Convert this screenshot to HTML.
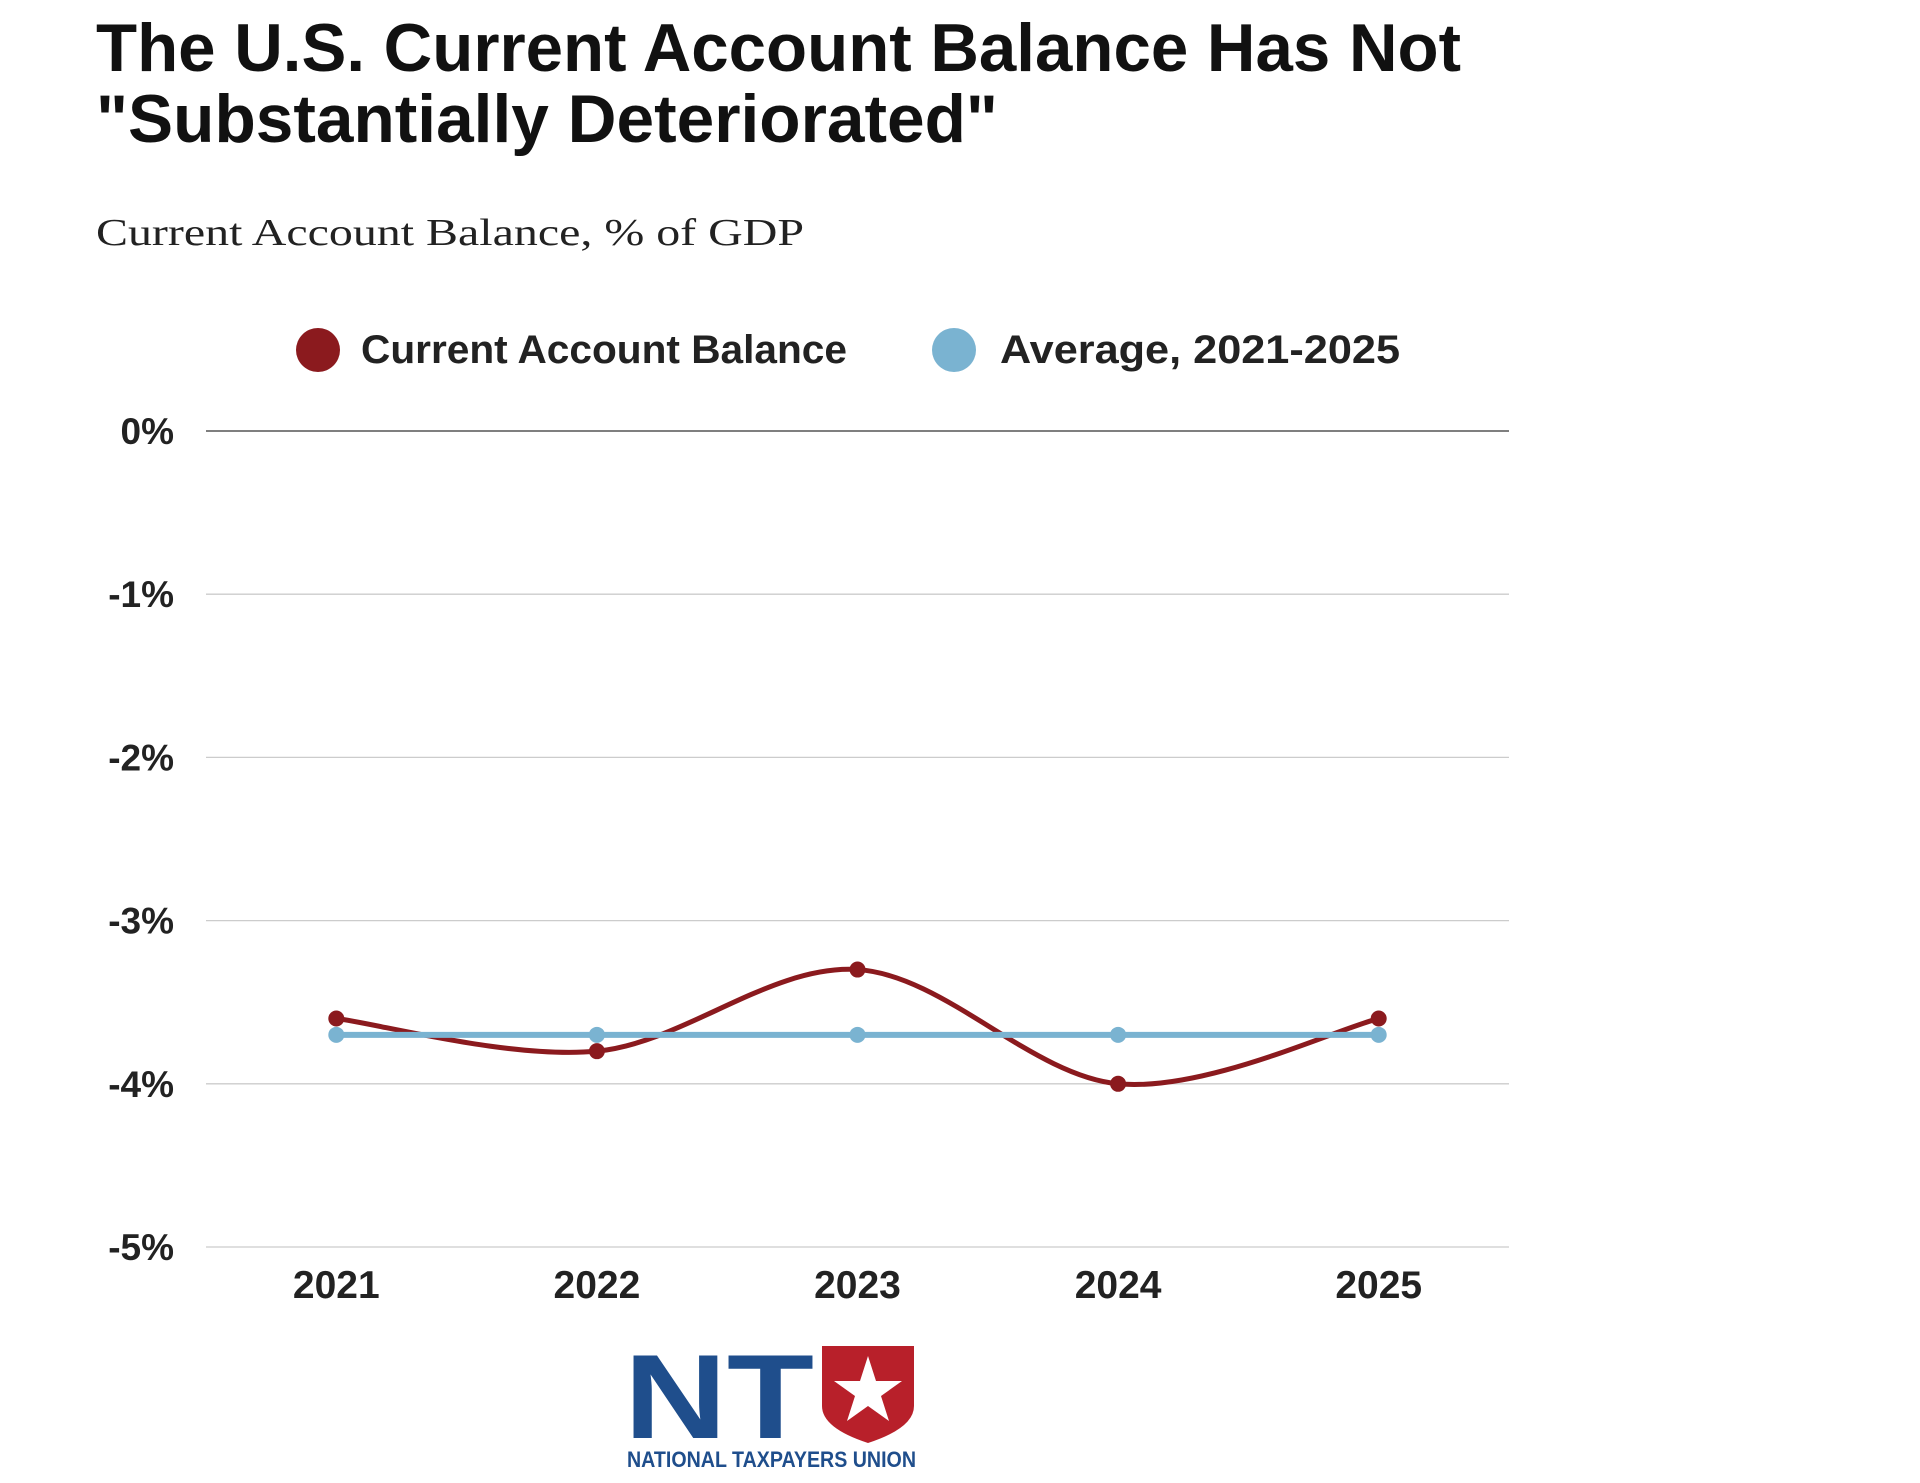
<!DOCTYPE html>
<html><head><meta charset="utf-8"><style>
html,body{margin:0;padding:0;background:#fff;}
svg{display:block;font-family:"Liberation Sans",sans-serif;}
</style></head><body>
<svg id="chart" width="1920" height="1483" viewBox="0 0 1920 1483">
<text x="96" y="71" font-size="68" font-weight="bold" fill="#111" textLength="1365" lengthAdjust="spacingAndGlyphs">The U.S. Current Account Balance Has Not</text>
<text x="96" y="142" font-size="68" font-weight="bold" fill="#111" textLength="902" lengthAdjust="spacingAndGlyphs">"Substantially Deteriorated"</text>
<text x="96" y="245" font-size="38" font-family="Liberation Serif, serif" fill="#222" textLength="708" lengthAdjust="spacingAndGlyphs">Current Account Balance, % of GDP</text>
<g>
<circle cx="318" cy="350" r="22" fill="#8b1a1e"/>
<text x="361" y="363" font-size="40" font-weight="bold" fill="#222" textLength="486" lengthAdjust="spacingAndGlyphs">Current Account Balance</text>
<circle cx="954" cy="350" r="22" fill="#7ab3d1"/>
<text x="1000" y="363" font-size="40" font-weight="bold" fill="#222" textLength="400" lengthAdjust="spacingAndGlyphs">Average, 2021-2025</text>
</g>
<g id="grid"></g><g id="yaxis"></g><g id="xaxis"></g><g id="series"></g>
<g>
<text x="624" y="1438" font-size="120" font-weight="bold" fill="#1f4e8c" textLength="190" lengthAdjust="spacingAndGlyphs">NT</text>
<path d="M822 1346 H914 V1406 Q914 1428 868 1443 Q822 1428 822 1406 Z" fill="#b8202a"/>
<polygon points="868,1356 876,1381 902,1381 881,1396 889,1421 868,1406 847,1421 855,1396 834,1381 860,1381" fill="#fff"/>
<text x="627" y="1467" font-size="22" font-weight="bold" fill="#1f4e8c" textLength="289" lengthAdjust="spacingAndGlyphs">NATIONAL TAXPAYERS UNION</text>
</g>
</svg>
<script>
const categories = ["2021","2022","2023","2024","2025"];
const balanceValues = [-3.6,-3.8,-3.3,-4.0,-3.6];
const averageValues = [-3.7,-3.7,-3.7,-3.7,-3.7];
const yTicks = [0,-1,-2,-3,-4,-5];
const yTickLabels = ["0%","-1%","-2%","-3%","-4%","-5%"];

const NS="http://www.w3.org/2000/svg";
const left=206,right=1509,top0=431,bot=1247,yMax=0,yMin=-5;
const y=v=>top0+(yMax-v)/(yMax-yMin)*(bot-top0);
const band=(right-left)/categories.length;
const x=i=>left+band*(i+0.5);
function mk(tag,attrs,parent){const e=document.createElementNS(NS,tag);for(const k in attrs)e.setAttribute(k,attrs[k]);parent.appendChild(e);return e;}
const grid=document.getElementById('grid'),ya=document.getElementById('yaxis'),xa=document.getElementById('xaxis'),ser=document.getElementById('series');
yTicks.forEach((t,i)=>{
  const l=mk('line',{x1:left,x2:right,y1:y(t),y2:y(t),stroke:t===0?'#555':'#ccc','stroke-width':t===0?1.6:1.3},grid);
  
  
  const tx=mk('text',{x:174,y:y(t)+13,'text-anchor':'end','font-size':37,'font-weight':'bold',fill:'#222'},ya);
  tx.textContent=yTickLabels[i];
  
  
});
categories.forEach((c,i)=>{
  const tx=mk('text',{x:x(i),y:1298,'text-anchor':'middle','font-size':39,'font-weight':'bold',fill:'#222'},xa);
  tx.textContent=c;
  
  
});
function smooth(vals){
  const p=vals.map((v,i)=>[x(i),y(v)]);let d=`M${p[0][0]},${p[0][1]}`;
  for(let i=0;i<p.length-1;i++){
    const p0=p[Math.max(i-1,0)],p1=p[i],p2=p[i+1],p3=p[Math.min(i+2,p.length-1)];
    const c1=[p1[0]+(p2[0]-p0[0])/6,p1[1]+(p2[1]-p0[1])/6],c2=[p2[0]-(p3[0]-p1[0])/6,p2[1]-(p3[1]-p1[1])/6];
    d+=` C${c1[0]},${c1[1]} ${c2[0]},${c2[1]} ${p2[0]},${p2[1]}`;
  }
  return d;
}
const bl=mk('path',{d:smooth(balanceValues),fill:'none',stroke:'#8b1a1e','stroke-width':5},ser);


balanceValues.forEach((v,i)=>{
  const c=mk('circle',{cx:x(i),cy:y(v),r:8,fill:'#8b1a1e'},ser);
  
  
});
const al=mk('path',{d:smooth(averageValues),fill:'none',stroke:'#7ab3d1','stroke-width':6},ser);


averageValues.forEach((v,i)=>{
  const c=mk('circle',{cx:x(i),cy:y(v),r:8,fill:'#7ab3d1'},ser);
  
  
});
</script>
</body></html>
